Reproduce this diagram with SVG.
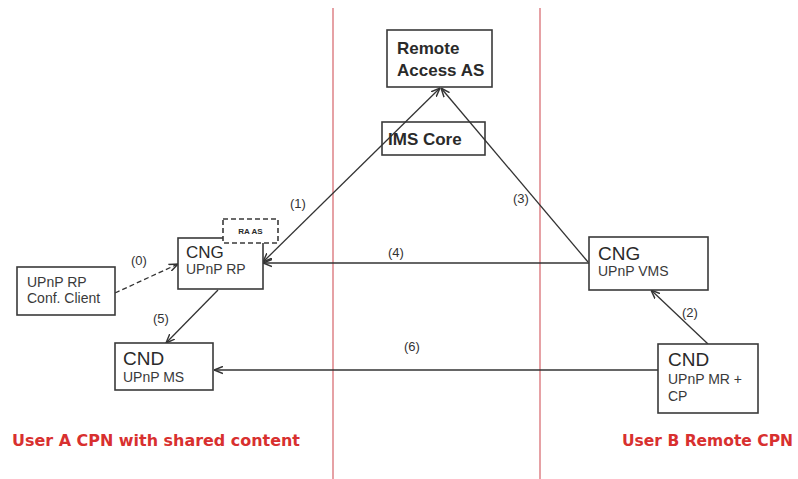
<svg xmlns="http://www.w3.org/2000/svg" width="798" height="479" viewBox="0 0 798 479">
  <style>
    .box { fill: #ffffff; stroke: #3a3a3a; stroke-width: 1.6; }
    .dash { fill: #ffffff; stroke: #3a3a3a; stroke-width: 1.6; stroke-dasharray: 5 3; }
    .zone { stroke: #e08a8f; stroke-width: 1.6; }
    .conn { stroke: #333333; stroke-width: 1.3; fill: none; }
    .t { font-family: "Liberation Sans", Arial, sans-serif; fill: #2a2a2a; }
    .big { font-size: 19px; }
    .bold { font-size: 17px; font-weight: bold; }
    .sub { font-size: 14px; fill: #3a3a3a; }
    .lbl { font-size: 13px; fill: #333333; }
    .area { font-family: "DejaVu Sans", Verdana, sans-serif; font-size: 15px; font-weight: bold; fill: #d8302f; }
  </style>
  <defs>
    <marker id="arr" viewBox="0 0 10 10" refX="10" refY="5" markerWidth="9" markerHeight="9" markerUnits="userSpaceOnUse" orient="auto-start-reverse">
      <path d="M0,1 L10,5 L0,9" fill="none" stroke="#333333" stroke-width="1.6"/>
    </marker>
  </defs>

  <rect width="798" height="479" fill="#ffffff"/>

  <!-- domain separators -->
  <line class="zone" x1="333" y1="8" x2="333" y2="479"/>
  <line class="zone" x1="540" y1="8" x2="540" y2="479"/>

  <!-- IMS Core sits underneath the signalling lines that cross it -->
  <g id="ims-core">
    <rect class="box" x="382" y="122" width="103" height="33"/>
    <text class="t bold" x="388" y="145">IMS Core</text>
  </g>

  <!-- connectors -->
  <g id="connectors">
    <line class="conn" x1="115" y1="293" x2="178" y2="264" stroke-dasharray="5 3" marker-end="url(#arr)"/>
    <line class="conn" x1="263" y1="262" x2="440" y2="88" marker-start="url(#arr)" marker-end="url(#arr)"/>
    <line class="conn" x1="588" y1="262" x2="441" y2="88" marker-end="url(#arr)"/>
    <line class="conn" x1="589" y1="263" x2="263" y2="263" marker-end="url(#arr)"/>
    <line class="conn" x1="708" y1="344" x2="651" y2="290" marker-end="url(#arr)"/>
    <line class="conn" x1="218" y1="290" x2="166" y2="343" marker-end="url(#arr)"/>
    <line class="conn" x1="658" y1="370" x2="214" y2="370" marker-end="url(#arr)"/>
    <text class="t lbl" x="131" y="265">(0)</text>
    <text class="t lbl" x="290" y="208">(1)</text>
    <text class="t lbl" x="682" y="317">(2)</text>
    <text class="t lbl" x="513" y="203">(3)</text>
    <text class="t lbl" x="388" y="257">(4)</text>
    <text class="t lbl" x="153" y="323">(5)</text>
    <text class="t lbl" x="404" y="351">(6)</text>
  </g>

  <g id="remote-access-as">
    <rect class="box" x="387" y="30" width="105" height="57"/>
    <text class="t bold" x="397" y="54">Remote</text>
    <text class="t bold" x="397" y="76">Access AS</text>
  </g>

  <g id="conf-client">
    <rect class="box" x="17" y="267" width="98" height="48"/>
    <text class="t sub" x="27" y="287">UPnP RP</text>
    <text class="t sub" x="27" y="303">Conf. Client</text>
  </g>

  <g id="cng-a">
    <rect class="box" x="178" y="238" width="85" height="51"/>
    <text class="t" x="186" y="258" font-size="17">CNG</text>
    <text class="t sub" x="186" y="274">UPnP RP</text>
  </g>

  <g id="ra-as">
    <rect class="dash" x="223" y="219" width="55" height="24"/>
    <text class="t" x="250.5" y="234" font-size="8" font-weight="bold" text-anchor="middle">RA AS</text>
  </g>

  <g id="cnd-a">
    <rect class="box" x="115" y="343" width="98" height="47"/>
    <text class="t big" x="123" y="365">CND</text>
    <text class="t sub" x="123" y="382">UPnP MS</text>
  </g>

  <g id="cng-b">
    <rect class="box" x="589" y="237" width="119" height="53"/>
    <text class="t big" x="598" y="260">CNG</text>
    <text class="t sub" x="598" y="276">UPnP VMS</text>
  </g>

  <g id="cnd-b">
    <rect class="box" x="658" y="344" width="100" height="69"/>
    <text class="t big" x="668" y="366">CND</text>
    <text class="t sub" x="668" y="384">UPnP MR +</text>
    <text class="t sub" x="668" y="401">CP</text>
  </g>

  <!-- area captions -->
  <text class="area" x="12" y="446" textLength="288" lengthAdjust="spacingAndGlyphs">User A CPN with shared content</text>
  <text class="area" x="622" y="446" textLength="171" lengthAdjust="spacingAndGlyphs">User B Remote CPN</text>
</svg>
